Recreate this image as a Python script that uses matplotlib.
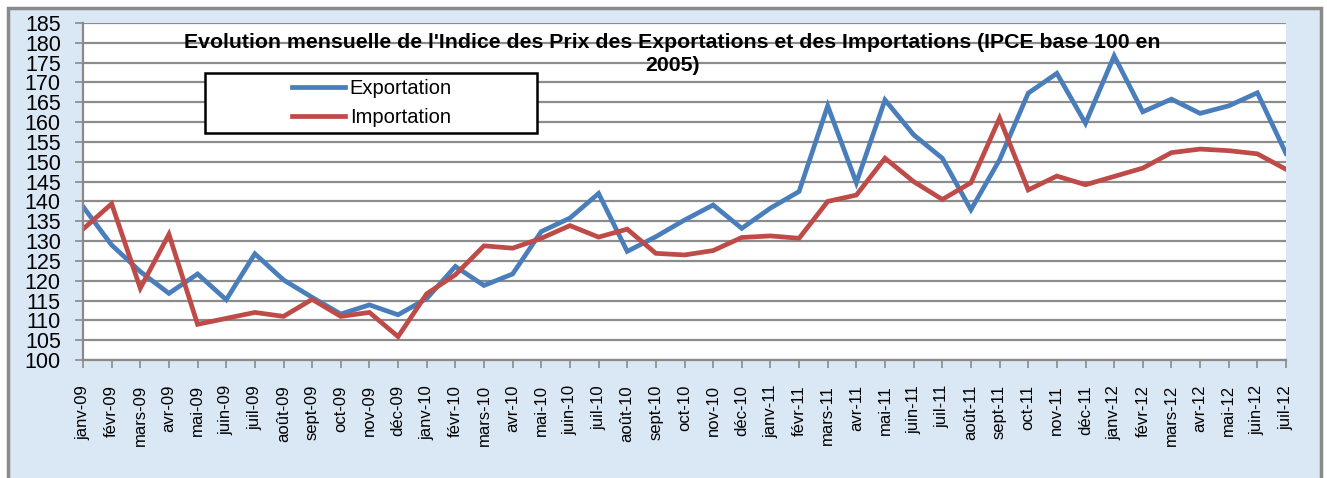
import numpy as np
import matplotlib.pyplot as plt
from matplotlib.patches import Rectangle
from matplotlib import font_manager

plt.rcParams['font.family'] = ['Liberation Sans', 'DejaVu Sans']

# mois de janv-09 a juil-12
mois = ["janv-09", "févr-09", "mars-09", "avr-09", "mai-09", "juin-09", "juil-09",
        "août-09", "sept-09", "oct-09", "nov-09", "déc-09",
        "janv-10", "févr-10", "mars-10", "avr-10", "mai-10", "juin-10", "juil-10",
        "août-10", "sept-10", "oct-10", "nov-10", "déc-10",
        "janv-11", "févr-11", "mars-11", "avr-11", "mai-11", "juin-11", "juil-11",
        "août-11", "sept-11", "oct-11", "nov-11", "déc-11",
        "janv-12", "févr-12", "mars-12", "avr-12", "mai-12", "juin-12", "juil-12"]

exportation = [138.7, 129.0, 122.3, 116.8, 121.7, 115.2, 126.8, 120.2, 115.8, 111.6, 113.9, 111.4,
               115.5, 123.6, 118.8, 121.7, 132.4, 135.8, 142.0, 127.4, 131.1, 135.3, 139.1, 133.2,
               138.3, 142.5, 164.1, 144.7, 165.6, 156.8, 150.9, 137.9, 150.5, 167.3, 172.3, 159.7,
               176.7, 162.6, 165.8, 162.2, 164.1, 167.4, 152.1]

importation = [133.0, 139.4, 118.1, 131.7, 109.0, 110.5, 112.0, 111.0, 115.3, 111.0, 112.0, 105.9,
               116.7, 121.5, 128.8, 128.2, 130.7, 133.9, 131.0, 133.0, 126.9, 126.5, 127.6, 130.9,
               131.3, 130.7, 140.0, 141.6, 150.9, 145.0, 140.5, 144.7, 161.0, 142.9, 146.4, 144.2,
               146.3, 148.4, 152.3, 153.2, 152.8, 152.0, 148.1]

titre = ("Evolution mensuelle de l'Indice des Prix des Exportations et des Importations (IPCE base 100 en\n"
         "2005)")

# police etroite pour les mois si disponible
noms = {f.name for f in font_manager.fontManager.ttflist}
if "Liberation Sans Narrow" in noms:
    police_mois, taille_mois = "Liberation Sans Narrow", 14.5
else:
    police_mois, taille_mois = "Liberation Sans", 12

W, H = 1327, 478
fig = plt.figure(figsize=(W / 100, H / 100), dpi=100)
fig.patch.set_facecolor("white")

# fond bleu clair avec cadre gris
fond = Rectangle((8 / W, -0.05), 1313 / W, 1 - 8 / H + 0.05,
                 transform=fig.transFigure, facecolor="#dae7f4",
                 edgecolor="#8a8a8a", linewidth=2.5, zorder=-10)
fig.patches.append(fond)

ax = fig.add_axes([83 / W, 1 - 360 / H, 1203 / W, 337 / H])
ax.set_facecolor("white")

x = np.arange(len(mois))
ax.plot(x, exportation, color="#4a7ebb", lw=3.4, label="Exportation", solid_joinstyle="miter")
ax.plot(x, importation, color="#be4b48", lw=3.4, label="Importation", solid_joinstyle="miter")

ax.set_xlim(0, len(mois) - 1)
ax.set_ylim(100, 185)
ax.set_yticks(np.arange(100, 186, 5))
ax.set_xticks(x)
ax.set_xticklabels(mois, rotation=90, fontsize=taille_mois, family=police_mois,
                   va="top", ha="center")
ax.tick_params(axis="y", labelsize=15.5, length=6, width=1.2, color="#8a8a8a", pad=10)
ax.tick_params(axis="x", length=6, width=1.2, color="#8a8a8a", pad=12)
ax.grid(axis="y", color="#8c8c8c", lw=1.6)
ax.set_axisbelow(True)
for s in ["top", "right"]:
    ax.spines[s].set_visible(False)
for s in ["left", "bottom"]:
    ax.spines[s].set_color("#8a8a8a")
    ax.spines[s].set_linewidth(1.6)

ax.text(672 / W, 1 - 33 / H, titre, transform=fig.transFigure, ha="center", va="top",
        fontsize=15.3, fontweight="bold", linespacing=1.25, zorder=6)

# cadre de la legende
ax.add_patch(Rectangle((205 / W, 1 - 133 / H), 332 / W, 60 / H,
                       transform=fig.transFigure, facecolor="white",
                       edgecolor="black", linewidth=1.8, zorder=4, clip_on=False))
leg = ax.legend(loc="center", bbox_to_anchor=(372 / W, 1 - 103 / H),
                bbox_transform=fig.transFigure, frameon=False, fontsize=14.5,
                handlelength=2.6, handletextpad=0.25, labelspacing=0.5)
leg.set_zorder(5)

fig.savefig("out.png", dpi=100)
